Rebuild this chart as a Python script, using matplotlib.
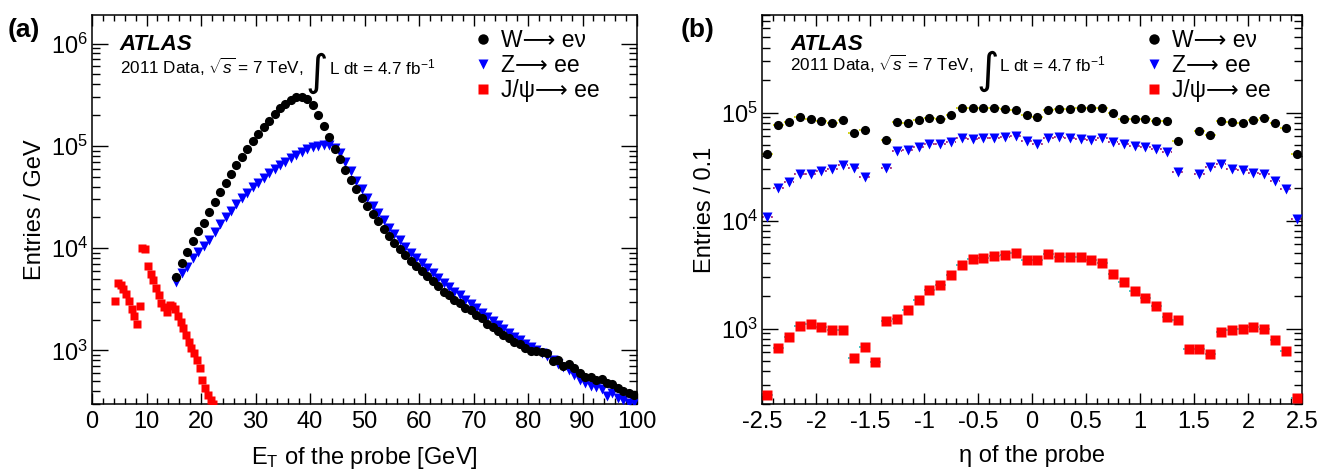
import numpy as np
import matplotlib
matplotlib.use("Agg")
import matplotlib.pyplot as plt
from matplotlib.ticker import LogLocator, NullFormatter, MultipleLocator
from matplotlib.transforms import offset_copy

plt.rcParams['font.family'] = ['Liberation Sans', 'DejaVu Sans']
plt.rcParams['mathtext.fontset'] = 'custom'
plt.rcParams['mathtext.rm'] = 'Liberation Sans'
plt.rcParams['mathtext.it'] = 'Liberation Sans:italic'
plt.rcParams['mathtext.bf'] = 'Liberation Sans:bold'
plt.rcParams['axes.unicode_minus'] = False

# ---- panel (a): E_T of the probe ----
et_bins = np.arange(15.5, 100, 1.0)
w_et = [5250, 7100, 9200, 11800, 14700, 17500, 22400, 28400, 35100, 43500,
        53000, 64400, 78200, 93600, 112000, 132000, 153000, 176000, 203000, 232000,
        259000, 279000, 297000, 297000, 284000, 250000, 200000, 156000, 121000, 93500,
        74000, 58000, 46500, 37600, 31200, 25900, 21700, 18300, 15500, 13200,
        11350, 9920, 8500, 7500, 6710, 5950, 5320, 4750, 4250, 3760,
        3480, 3150, 2900, 2610, 2500, 2240, 2060, 1810, 1710, 1550,
        1420, 1310, 1220, 1150, 1050, 995, 985, 960, 940, 790,
        808, 705, 731, 668, 597, 553, 553, 514, 522, 484,
        467, 427, 404, 386, 367]
z_et = [4700, 5670, 6590, 7950, 9200, 10500, 12000, 14500, 17200, 20300,
        23000, 27000, 30900, 34800, 39200, 43500, 48700, 53800, 58900, 64400,
        69800, 75900, 81700, 86800, 92200, 96500, 100000, 103000, 103000, 96000,
        85000, 70000, 57000, 45500, 37500, 31000, 26000, 22000, 18700, 15800,
        13700, 11900, 10300, 9000, 8000, 7100, 6350, 5700, 5100, 4550,
        4150, 3750, 3450, 3100, 2850, 2600, 2350, 2120, 1950, 1780,
        1620, 1480, 1360, 1260, 1160, 1080, 1010, 940, 880, 810,
        740, 690, 640, 570, 520, 480, 450, 435, 420, 360,
        380, 345, 330, 310, 315]
jpsi_bins = np.arange(4.25, 22.5, 0.5)
jpsi_et = [3050, 4600, 4400, 4000, 3600, 3050, 2550, 2150, 1800, 2750,
           10000, 9800, 6700, 5600, 4900, 4060, 3500, 2940, 2650, 2400,
           2790, 2750, 2540, 2150, 1880, 1650, 1430, 1200, 1060, 945,
           810, 670, 520, 430, 370, 330, 300]

# ---- panel (b): eta of the probe ----
nan = np.nan
eta_bins = np.linspace(-2.45, 2.45, 50)
w_eta = [41700, 76400, 82000, 91000, 86700, 83700, 80800, 86100, 64000, 68600,
         nan, 55500, 82000, 80000, 85000, 89000, 87000, 95800, 109000, 110000,
         110000, 109000, 107000, 106000, 94500, 90000, 106000, 107000, 108000, 109000,
         109000, 110000, 99000, 88000, 88000, 87000, 84000, 83000, 54700, nan,
         67000, 62500, 83000, 81000, 80000, 86000, 88500, 80000, 72600, 41000]
z_eta = [10800, 19800, 22800, 27200, 27200, 28800, 29900, 32700, 30700, 25400,
         nan, 30700, 43800, 45400, 48100, 50900, 51600, 53500, 58200, 56600,
         58700, 58700, 59600, 60300, 54700, 51600, 58700, 59600, 58700, 57400,
         56200, 57800, 53500, 51600, 49500, 47800, 45800, 43200, 28000, nan,
         27000, 31200, 33200, 30300, 29100, 27800, 26900, 23100, 19400, 10400]
jpsi_eta = [241, 667, 838, 1058, 1112, 1036, 979, 979, 538, 676,
            491, 1169, 1238, 1479, 1830, 2296, 2555, 3160, 3857, 4444,
            4540, 4672, 4773, 5017, 4293, 4293, 4880, 4610, 4610, 4610,
            4293, 4000, 3230, 2705, 2233, 1936, 1610, 1282, 1195, 644,
            653, 587, 919, 966, 1000, 1036, 986, 780, 617, 225]

labels = ['W\u27f6 e\u03bd', 'Z\u27f6 ee', 'J/\u03c8\u27f6 ee']

fig = plt.figure(figsize=(13.31, 4.70), dpi=100)
axa = fig.add_axes([92 / 1331, 66 / 470, 545 / 1331, 389 / 470])
axb = fig.add_axes([762 / 1331, 66 / 470, 540 / 1331, 389 / 470])


def style_axis(ax):
    ax.set_yscale('log')
    ax.yaxis.set_major_locator(LogLocator(base=10, numticks=12))
    ax.yaxis.set_minor_locator(LogLocator(base=10, subs=np.arange(2, 10), numticks=12))
    ax.yaxis.set_minor_formatter(NullFormatter())
    ax.tick_params(which='both', direction='in', top=True, right=True,
                   width=1.0, labelsize=17, colors='black')
    ax.tick_params(axis='y', which='major', length=11.5, pad=3)
    ax.tick_params(axis='y', which='minor', length=6)
    ax.tick_params(axis='x', which='major', length=8, pad=5)
    ax.tick_params(axis='x', which='minor', length=4)
    for s in ax.spines.values():
        s.set_linewidth(1.1)


def add_texts(ax, x0, y_atlas, y_data):
    ax.text(x0, y_atlas, 'ATLAS', transform=ax.transAxes, fontsize=16,
            fontweight='bold', fontstyle='italic', va='baseline')
    ax.text(x0, y_data, '2011 Data, $\\sqrt{s}$ = 7 TeV,', transform=ax.transAxes,
            fontsize=12.3, va='baseline')
    t_int = offset_copy(ax.transAxes, fig=fig, x=186, y=-11, units='dots')
    ax.text(x0, y_data, '\u222b', transform=t_int, fontsize=31,
            family='DejaVu Sans', va='baseline')
    t_rest = offset_copy(ax.transAxes, fig=fig, x=209, y=0, units='dots')
    ax.text(x0, y_data, 'L dt = 4.7 fb$^{-1}$', transform=t_rest,
            fontsize=12.3, va='baseline')


# panel (a)
axa.plot(jpsi_bins, jpsi_et, 's', color='#ff0000', ms=6.0, mec='none', zorder=3)
axa.plot(et_bins, z_et, 'v', color='#0000ff', ms=6.6, mec='none', zorder=3)
axa.plot(et_bins, w_et, 'o', color='black', ms=6.6, mec='none', zorder=4)
style_axis(axa)
axa.set_xlim(0, 100)
axa.set_ylim(300, 1.9e6)
axa.xaxis.set_major_locator(MultipleLocator(10))
axa.xaxis.set_minor_locator(MultipleLocator(2))
axa.set_xlabel('E$_\\mathrm{T}$ of the probe [GeV]', fontsize=17, labelpad=9)
axa.set_ylabel('Entries / GeV', fontsize=17, labelpad=3)
add_texts(axa, 0.051, 0.91, 0.848)

# panel (b)
err_w = axb.errorbar(eta_bins, w_eta, xerr=0.05, fmt='none', ecolor='#d0d000', elinewidth=1.3, zorder=2)
err_z = axb.errorbar(eta_bins, z_eta, xerr=0.05, fmt='none', ecolor='#a0207a', elinewidth=1.3, zorder=2)
err_j = axb.errorbar(eta_bins, jpsi_eta, xerr=0.05, fmt='none', ecolor='#30c0c0', elinewidth=1.3, zorder=2)
for e in (err_w, err_z, err_j):
    for lc in e[2]:
        lc.set_linestyle((0, (1, 1.5)))
axb.plot(eta_bins, w_eta, 'o', color='black', ms=6.6, mec='none', zorder=4)
axb.plot(eta_bins, z_eta, 'v', color='#0000ff', ms=6.6, mec='none', zorder=4)
axb.plot(eta_bins, jpsi_eta, 's', color='#ff0000', ms=6.6, mec='none', zorder=4)
style_axis(axb)
axb.set_xlim(-2.5, 2.5)
axb.set_ylim(200, 8e5)
axb.xaxis.set_major_locator(MultipleLocator(0.5))
axb.xaxis.set_minor_locator(MultipleLocator(0.1))
axb.xaxis.set_major_formatter(plt.FuncFormatter(lambda v, p: ('%g' % v)))
axb.set_xlabel('\u03b7 of the probe', fontsize=17, labelpad=9)
axb.set_ylabel('Entries / 0.1', fontsize=17, labelpad=3)
add_texts(axb, 0.052, 0.91, 0.855)

# legends
for ax, xa in ((axa, 0.675), (axb, 0.683)):
    h1, = ax.plot([], [], 'o', color='black', ms=7.5, mec='none')
    h2, = ax.plot([], [], 'v', color='#0000ff', ms=7.5, mec='none')
    h3, = ax.plot([], [], 's', color='#ff0000', ms=7.5, mec='none')
    ax.legend([h1, h2, h3], labels, loc='upper left', bbox_to_anchor=(xa, 1.0),
              frameon=False, fontsize=16.5, handlelength=0.8, handletextpad=0.4,
              labelspacing=0.1, borderaxespad=0.2)

fig.text(8 / 1331, 1 - 30 / 470, '(a)', fontsize=19, fontweight='bold', va='center')
fig.text(681 / 1331, 1 - 30 / 470, '(b)', fontsize=19, fontweight='bold', va='center')

fig.savefig('out.png', dpi=100)
